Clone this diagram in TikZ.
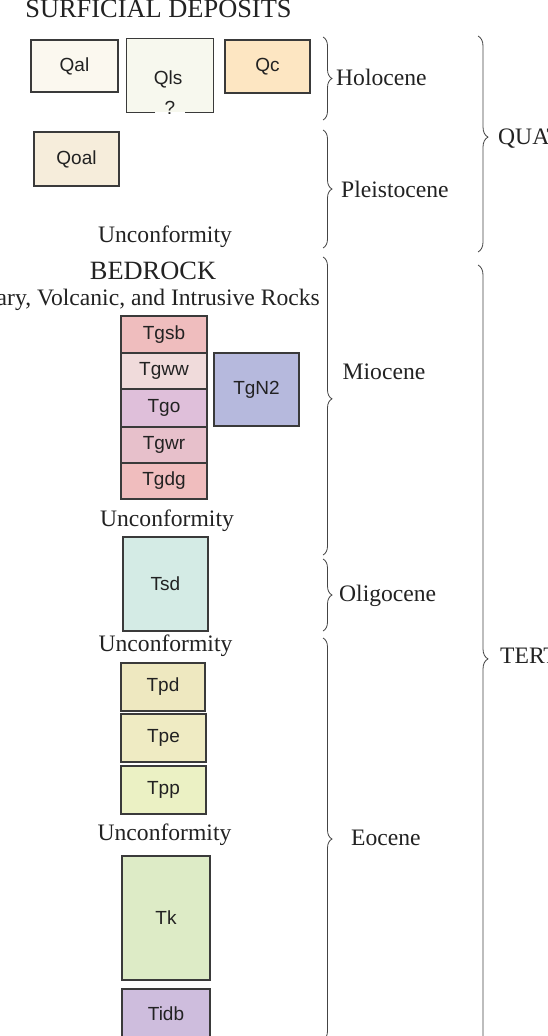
\documentclass[tikz,border=0pt]{standalone}
\usepackage{fontspec}
\setmainfont{Liberation Serif}
\newfontfamily\boxfont{Liberation Sans}
\usetikzlibrary{decorations.pathreplacing}

% unit fills
\definecolor{boxline}{HTML}{3A3A3A}
\definecolor{txt}{HTML}{222222}
\definecolor{bracecol}{HTML}{444444}
\definecolor{cQal}{HTML}{FBF8EF}
\definecolor{cQls}{HTML}{F7F8EE}
\definecolor{cQc}{HTML}{FDE6C2}
\definecolor{cQoal}{HTML}{F6EDDB}
\definecolor{cTgsb}{HTML}{EFBDBE}
\definecolor{cTgww}{HTML}{F0DBDB}
\definecolor{cTgo}{HTML}{DFBFDA}
\definecolor{cTgwr}{HTML}{E7C0CB}
\definecolor{cTgdg}{HTML}{F0BDBE}
\definecolor{cTgN}{HTML}{B6B9DD}
\definecolor{cTsd}{HTML}{D4EBE5}
\definecolor{cTpd}{HTML}{EEE8C0}
\definecolor{cTpe}{HTML}{EFEBC3}
\definecolor{cTpp}{HTML}{EBF1C4}
\definecolor{cTk}{HTML}{DDEBC6}
\definecolor{cTidb}{HTML}{CEBDDD}

\tikzset{
  unitbox/.style={draw=boxline, line width=1.1pt, inner sep=0pt,
    font=\boxfont\fontsize{19}{22}\selectfont, text=txt},
  unittext/.style={inner sep=0pt, font=\boxfont\fontsize{19}{22}\selectfont, text=txt},
  lbl/.style={inner sep=0pt, font=\fontsize{23.6}{28}\selectfont, text=txt},
  head/.style={inner sep=0pt, font=\fontsize{26.4}{30}\selectfont, text=txt},
  epochbrace/.style={draw=bracecol, line width=0.8pt, decorate,
    decoration={brace, amplitude=9pt, aspect=#1}},
  epochbrace/.default=0.5,
  erabrace/.style={draw=bracecol, line width=0.8pt, decorate,
    decoration={brace, amplitude=10pt, aspect=#1}},
  erabrace/.default=0.5,
}

\begin{document}
\begin{tikzpicture}[x=1pt, y=-1pt]
\useasboundingbox (0,0) rectangle (548,1036);
\clip (0,0) rectangle (548,1036);
\fill[white] (0,0) rectangle (548,1036);

% ---- surficial deposits ----
\node[head, anchor=base] (surf) at (158.5,17) {SURFICIAL DEPOSITS};

\node[unitbox, fill=cQal, minimum width=87, minimum height=52] (Qal) at (74.5,66) {Qal};
\node[unitbox, fill=cQc, minimum width=85, minimum height=53] (Qc) at (267.5,66.5) {Qc};
\node[unitbox, fill=cQoal, minimum width=85, minimum height=54] (Qoal) at (76.5,159) {Qoal};

% landslide deposits: base left open around the query
\node[fill=cQls, minimum width=86, minimum height=73, inner sep=0pt] (Qls) at (170,75.5) {};
\draw[boxline, line width=1.1pt]
  ([xshift=-15pt]Qls.south) -| (Qls.north west) -| (Qls.south east) -- ([xshift=15pt]Qls.south);
\node[unittext] (QlsName) at (168,79) {Qls};
\node[unittext] (QlsQuery) at (170,108) {?};

\node[lbl, anchor=base] (unc1) at (165,242) {Unconformity};

% ---- bedrock ----
\node[head, anchor=base] (bed) at (153,279.5) {BEDROCK};
\node[lbl, anchor=base east] (bedsub) at (320,305) {Sedimentary, Volcanic, and Intrusive Rocks};

\node[unitbox, fill=cTgsb, minimum width=86, minimum height=37] (Tgsb) at (164,334.5) {Tgsb};
\node[unitbox, fill=cTgww, minimum width=86, minimum height=36] (Tgww) at (164,371) {Tgww};
\node[unitbox, fill=cTgo, minimum width=86, minimum height=38] (Tgo) at (164,408) {Tgo};
\node[unitbox, fill=cTgwr, minimum width=86, minimum height=36] (Tgwr) at (164,445) {Tgwr};
\node[unitbox, fill=cTgdg, minimum width=86, minimum height=36] (Tgdg) at (164,481) {Tgdg};
\node[unitbox, fill=cTgN, minimum width=85, minimum height=73] (TgN2) at (256.5,389.5) {TgN2};

\node[lbl, anchor=base] (unc2) at (167,526) {Unconformity};

\node[unitbox, fill=cTsd, minimum width=85, minimum height=94] (Tsd) at (165.5,584) {Tsd};

\node[lbl, anchor=base] (unc3) at (165.5,651) {Unconformity};

\node[unitbox, fill=cTpd, minimum width=84, minimum height=48] (Tpd) at (163,687) {Tpd};
\node[unitbox, fill=cTpe, minimum width=85, minimum height=48] (Tpe) at (163.5,738) {Tpe};
\node[unitbox, fill=cTpp, minimum width=85, minimum height=48] (Tpp) at (163.5,790) {Tpp};

\node[lbl, anchor=base] (unc4) at (164.5,840) {Unconformity};

\node[unitbox, fill=cTk, minimum width=88, minimum height=124] (Tk) at (166,918) {Tk};
\node[unitbox, fill=cTidb, minimum width=88, minimum height=49] (Tidb) at (166,1013.5) {Tidb};

% ---- epochs ----
\coordinate (holA) at (323,37);   \coordinate (holB) at (323,120);
\coordinate (pleA) at (323,130);  \coordinate (pleB) at (323,248);
\coordinate (mioA) at (323,257);  \coordinate (mioB) at (323,555);
\coordinate (oliA) at (323,559);  \coordinate (oliB) at (323,631);
\coordinate (eocA) at (323,638);  \coordinate (eocB) at (323,1040);
\draw[epochbrace] (holA) -- (holB);
\draw[epochbrace] (pleA) -- (pleB);
\draw[epochbrace=0.476] (mioA) -- (mioB);
\draw[epochbrace] (oliA) -- (oliB);
\draw[epochbrace] (eocA) -- (eocB);

\node[lbl, anchor=base west] (hol) at (336,85) {Holocene};
\node[lbl, anchor=base west] (ple) at (341,197) {Pleistocene};
\node[lbl, anchor=base west] (mio) at (342.5,379) {Miocene};
\node[lbl, anchor=base west] (oli) at (339,601.5) {Oligocene};
\node[lbl, anchor=base west] (eoc) at (351,845.5) {Eocene};

% ---- periods ----
\coordinate (quaA) at (478,36);   \coordinate (quaB) at (478,252);
\coordinate (terA) at (478,265);  \coordinate (terB) at (478,1045);
\draw[erabrace=0.468] (quaA) -- (quaB);
\draw[erabrace=0.505] (terA) -- (terB);

\node[lbl, anchor=base west] (qua) at (498,144) {QUATERNARY};
\node[lbl, anchor=base west] (ter) at (500,663) {TERTIARY};
\end{tikzpicture}
\end{document}
